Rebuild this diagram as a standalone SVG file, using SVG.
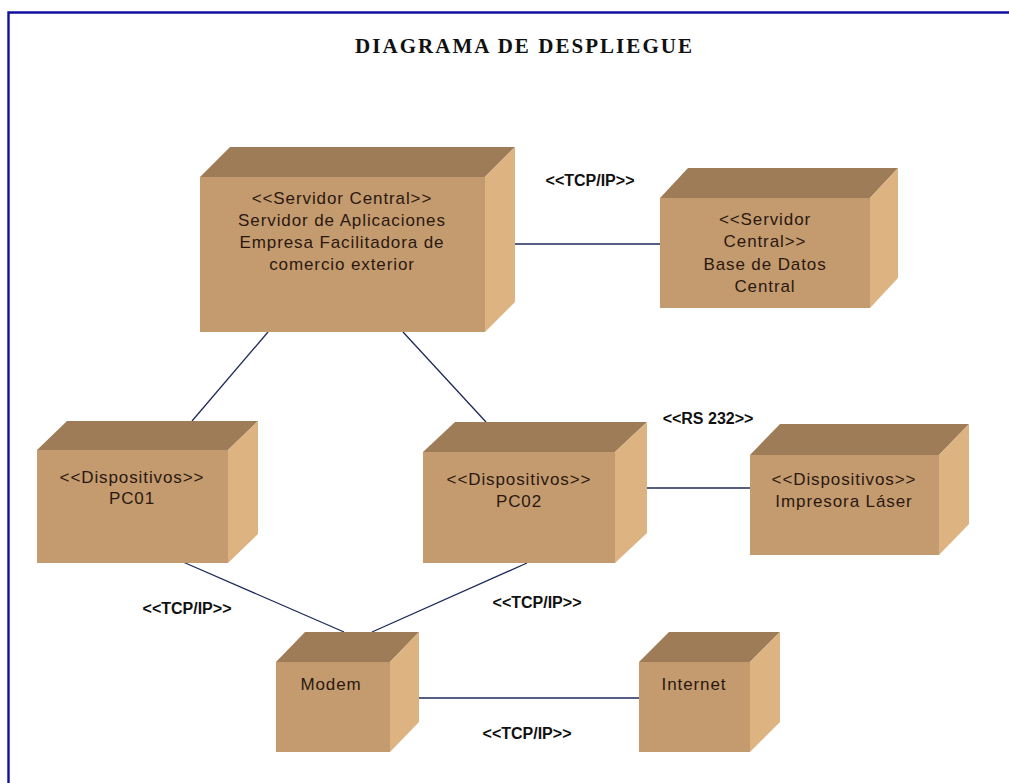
<svg xmlns="http://www.w3.org/2000/svg" width="1009" height="783" viewBox="0 0 1009 783">
<style>
.front{fill:#c49b6e}
.top{fill:#9e7c58}
.side{fill:#ddb382}
.nt{font-family:"Liberation Sans",Arial,sans-serif;font-size:17px;letter-spacing:0.9px;fill:#2a1810;text-anchor:middle}
.lbl{font-family:"Liberation Sans",Arial,sans-serif;font-size:16px;font-weight:bold;fill:#111;text-anchor:middle}
.title{font-family:"Liberation Serif","Times New Roman",serif;font-size:21px;font-weight:bold;fill:#111}
.conn line{stroke:#1c2a5a;stroke-width:1.3}
</style>
<rect width="1009" height="783" fill="#ffffff"/>
<path d="M8.5,783 V12.5 H1009" fill="none" stroke="#1010a0" stroke-width="2.4"/>
<text class="title" x="355" y="53" textLength="337" lengthAdjust="spacing">DIAGRAMA DE DESPLIEGUE</text>

<g id="connectors" class="conn">
<line x1="515" y1="244" x2="660" y2="244"/>
<line x1="268" y1="332" x2="192" y2="421"/>
<line x1="403" y1="332" x2="486" y2="422"/>
<line x1="647" y1="488" x2="750" y2="488"/>
<line x1="183" y1="562" x2="344" y2="632"/>
<line x1="527" y1="563" x2="372" y2="632"/>
<line x1="419" y1="698" x2="639" y2="698"/>
</g>

<g id="labels">
<text class="lbl" x="590" y="186">&lt;&lt;TCP/IP&gt;&gt;</text>
<text class="lbl" x="708" y="424">&lt;&lt;RS 232&gt;&gt;</text>
<text class="lbl" x="187" y="614">&lt;&lt;TCP/IP&gt;&gt;</text>
<text class="lbl" x="537" y="608">&lt;&lt;TCP/IP&gt;&gt;</text>
<text class="lbl" x="527" y="739">&lt;&lt;TCP/IP&gt;&gt;</text>
</g>

<g id="servidor-aplicaciones">
<polygon class="top" points="200,177 230,147 515,147 485,177"/>
<polygon class="side" points="485,177 515,147 515,302 485,332"/>
<rect class="front" x="200" y="177" width="285" height="155"/>
<text class="nt" x="342" y="204">&lt;&lt;Servidor Central&gt;&gt;</text>
<text class="nt" x="342" y="226">Servidor de Aplicaciones</text>
<text class="nt" x="342" y="248">Empresa Facilitadora de</text>
<text class="nt" x="342" y="270">comercio exterior</text>
</g>

<g id="base-datos">
<polygon class="top" points="660,198 688,168 898,168 870,198"/>
<polygon class="side" points="870,198 898,168 898,278 870,308"/>
<rect class="front" x="660" y="198" width="210" height="110"/>
<text class="nt" x="765" y="225">&lt;&lt;Servidor</text>
<text class="nt" x="765" y="247">Central&gt;&gt;</text>
<text class="nt" x="765" y="270">Base de Datos</text>
<text class="nt" x="765" y="292">Central</text>
</g>

<g id="pc01">
<polygon class="top" points="37,450 67,421 258,421 228,450"/>
<polygon class="side" points="228,450 258,421 258,534 228,563"/>
<rect class="front" x="37" y="450" width="191" height="113"/>
<text class="nt" x="132" y="483">&lt;&lt;Dispositivos&gt;&gt;</text>
<text class="nt" x="132" y="504">PC01</text>
</g>

<g id="pc02">
<polygon class="top" points="423,452 455,422 647,422 615,452"/>
<polygon class="side" points="615,452 647,422 647,533 615,563"/>
<rect class="front" x="423" y="452" width="192" height="111"/>
<text class="nt" x="519" y="485">&lt;&lt;Dispositivos&gt;&gt;</text>
<text class="nt" x="519" y="507">PC02</text>
</g>

<g id="impresora">
<polygon class="top" points="750,455 780,424 969,424 939,455"/>
<polygon class="side" points="939,455 969,424 969,524 939,555"/>
<rect class="front" x="750" y="455" width="189" height="100"/>
<text class="nt" x="844" y="485">&lt;&lt;Dispositivos&gt;&gt;</text>
<text class="nt" x="844" y="507">Impresora Láser</text>
</g>

<g id="modem">
<polygon class="top" points="276,662 305,632 419,632 390,662"/>
<polygon class="side" points="390,662 419,632 419,722 390,752"/>
<rect class="front" x="276" y="662" width="114" height="90"/>
<text class="nt" x="331" y="690">Modem</text>
</g>

<g id="internet">
<polygon class="top" points="639,662 669,632 780,632 750,662"/>
<polygon class="side" points="750,662 780,632 780,722 750,752"/>
<rect class="front" x="639" y="662" width="111" height="90"/>
<text class="nt" x="694" y="690">Internet</text>
</g>
</svg>
